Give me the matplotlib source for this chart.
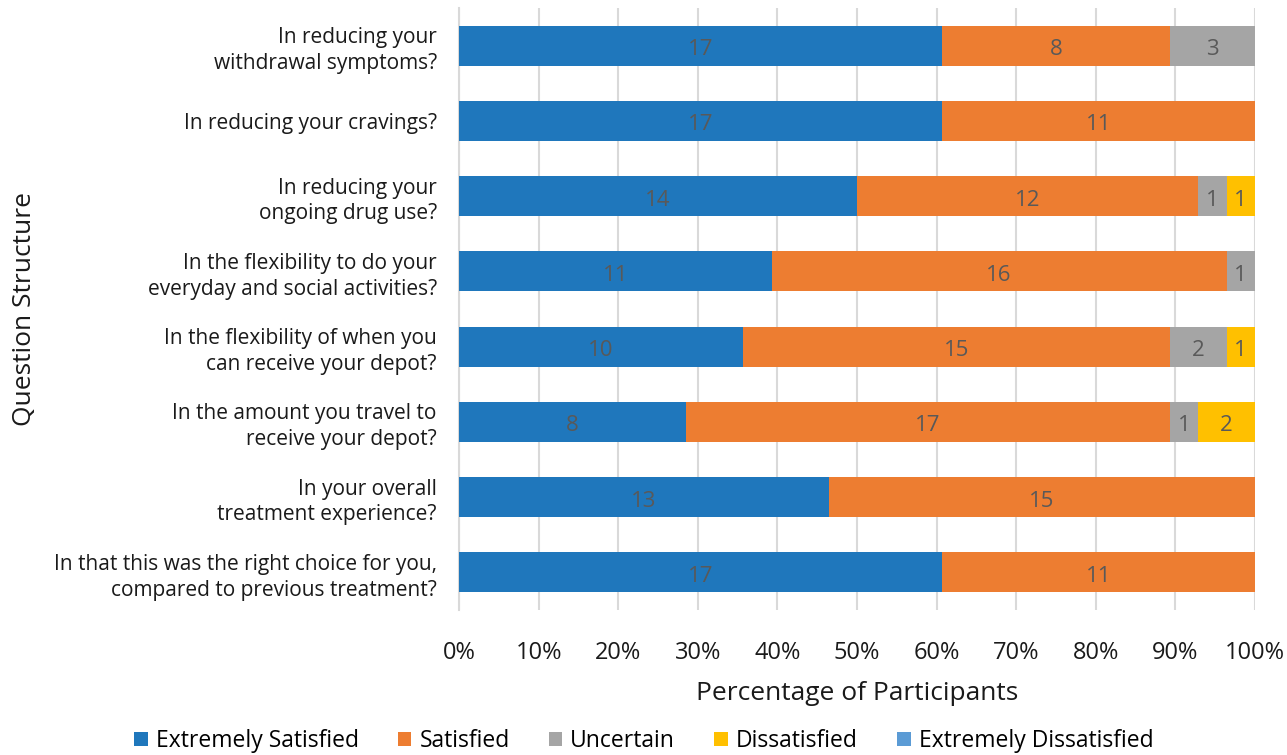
import matplotlib
matplotlib.use("Agg")
import matplotlib.pyplot as plt
import numpy as np

plt.rcParams['font.family'] = ['Open Sans', 'DejaVu Sans']

questions = [
    'In reducing your\nwithdrawal symptoms?',
    'In reducing your cravings?',
    'In reducing your\nongoing drug use?',
    'In the flexibility to do your\neveryday and social activities?',
    'In the flexibility of when you\ncan receive your depot?',
    'In the amount you travel to\nreceive your depot?',
    'In your overall\ntreatment experience?',
    'In that this was the right choice for you,\ncompared to previous treatment?',
]
categories = ['Extremely Satisfied', 'Satisfied', 'Uncertain', 'Dissatisfied', 'Extremely Dissatisfied']
extremely_satisfied = [17, 17, 14, 11, 10, 8, 13, 17]
satisfied = [8, 11, 12, 16, 15, 17, 15, 11]
uncertain = [3, 0, 1, 1, 2, 1, 0, 0]
dissatisfied = [0, 0, 1, 0, 1, 2, 0, 0]
extremely_dissatisfied = [0, 0, 0, 0, 0, 0, 0, 0]
colors = ['#1F77BC', '#ED7D31', '#A5A5A5', '#FFC000', '#5B9BD5']

counts = np.array([extremely_satisfied, satisfied, uncertain, dissatisfied, extremely_dissatisfied], dtype=float)
totals = counts.sum(axis=0)
pct = counts / totals * 100

fig = plt.figure(figsize=(12.87, 7.55), dpi=100)
ax = fig.add_axes([459/1287, 1 - 610/755, (1255-459)/1287, (610-8)/755])

y = np.arange(len(questions))
left = np.zeros(len(questions))
for i, cat in enumerate(categories):
    ax.barh(y, pct[i], left=left, height=0.53, color=colors[i], label=cat, zorder=3)
    for j in range(len(questions)):
        if counts[i, j] > 0:
            ax.text(left[j] + pct[i, j] / 2, y[j] + 0.02, str(int(counts[i, j])),
                    ha='center', va='center_baseline', fontsize=16, color='#595959', zorder=4)
    left += pct[i]

ax.set_ylim(len(questions) - 0.5, -0.5)
ax.set_xlim(0, 100)
ax.set_xticks(np.arange(0, 101, 10))
ax.set_xticklabels([f'{v}%' for v in range(0, 101, 10)], fontsize=17, color='#1a1a1a')
ax.set_yticks(y)
ax.set_yticklabels(questions, fontsize=15, color='#1a1a1a', ha='right', linespacing=1.3)
ax.tick_params(axis='y', length=0, pad=16)
ax.tick_params(axis='x', length=0, pad=22)
ax.xaxis.grid(True, color='#D9D9D9', linewidth=1.5, zorder=0)
for s in ['top', 'right', 'bottom']:
    ax.spines[s].set_visible(False)
ax.spines['left'].set_color('#D9D9D9')
ax.spines['left'].set_linewidth(1.5)

ax.set_xlabel('Percentage of Participants', fontsize=19, color='#1a1a1a', labelpad=12)
ax.set_ylabel('Question Structure', fontsize=19, color='#1a1a1a')
ax.yaxis.set_label_coords(-(459 - 37) / (1255 - 459), 0.5)

fig.legend(loc='center', bbox_to_anchor=(0.5, 1 - 741/755), ncol=5, frameon=False,
           fontsize=16.5, handlelength=0.6, handleheight=0.6, handletextpad=0.35, columnspacing=1.7)

fig.savefig('out.png', dpi=100)
